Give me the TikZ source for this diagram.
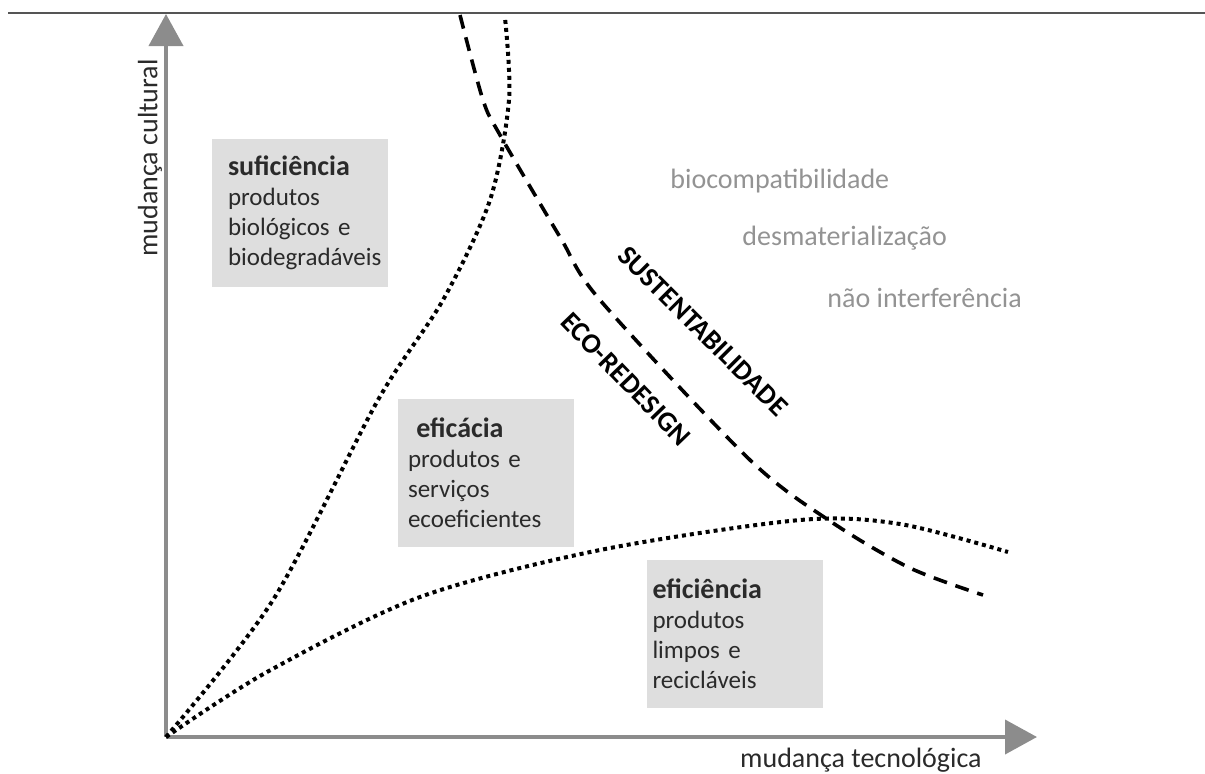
\documentclass[tikz,border=0pt]{standalone}
\usepackage{fontspec}
\setmainfont{Carlito}
\usepackage{tikz}
\usetikzlibrary{arrows.meta,positioning}
\definecolor{axisgray}{HTML}{8C8C8C}
\definecolor{boxgray}{HTML}{DEDEDE}
\definecolor{labelgray}{HTML}{939393}
\definecolor{textdark}{HTML}{2A2A2A}
\definecolor{rulegray}{HTML}{555555}

\begin{document}
\begin{tikzpicture}[x=0.5pt,y=-0.5pt,
  axis/.style={draw=axisgray,line width=2pt,-{Triangle[width=17pt,length=16pt]}},
  dotline/.style={line width=2pt,dash pattern=on 2pt off 2pt},
  dashline/.style={line width=1.8pt,dash pattern=on 7pt off 4.5pt},
  box/.style={fill=boxgray,minimum height=74pt,inner ysep=0pt,align=left,
    font=\fontsize{12.5}{15}\selectfont,text=textdark},
  strategy/.style={text=labelgray,font=\fontsize{14}{17}\selectfont,anchor=base west,inner sep=0pt},
  axislabel/.style={text=textdark,font=\fontsize{14}{17}\selectfont,inner sep=0pt},
  curvelabel/.style={font=\fontsize{14}{17}\selectfont\bfseries,text=black,inner sep=0pt}]
\useasboundingbox (0,0) rectangle (1205,773);
\draw[rulegray,line width=1pt] (8,13) -- (1205,13);

% axes
\coordinate (origin) at (166,737);
\coordinate (ytip) at (166,14);
\coordinate (xtip) at (1037,737);
\draw[axis] (origin) -- (ytip);
\draw[axis] (origin) -- (xtip);
\node[axislabel,rotate=90] (cult) at (150,158) {mudança cultural};
\node[axislabel,anchor=base east] (tecn) at (982,767) {mudança tecnológica};

% boxes
\node[box,text width=72pt,inner xsep=8pt] (sufi) at (300,213)
  {{\fontsize{14}{14}\selectfont\bfseries suficiência}\\produtos\\biológicos e\\biodegradáveis};
\node[box,text width=78pt,inner xsep=5pt] (efic) at (486,472.5)
  {{\fontsize{14}{14}\selectfont\bfseries\ eficácia}\\produtos e\\serviços\\ecoeficientes};
\node[box,text width=82pt,inner xsep=3pt] (efici) at (734.5,634)
  {{\fontsize{14}{14}\selectfont\bfseries eficiência}\\produtos\\limpos e\\recicláveis};

% curves
\draw[dotline] plot[smooth] coordinates
  {(origin) (273,600) (378,400) (443,300) (490,200) (509,100) (505,18)};
\draw[dotline] plot[smooth] coordinates
  {(origin) (267,672) (420,597) (600,550) (800,520) (900,524) (1008,552)};
\draw[dashline] plot[smooth] coordinates
  {(460,15) (483,100) (500,135) (560,237) (600,300) (750,460) (833,523) (910,568) (983,595)};
\node[curvelabel,rotate=-45] (sust) at (703,331) {SUSTENTABILIDADE};
\node[curvelabel,rotate=-46] (ecor) at (626,379) {ECO-REDESIGN};

% strategies
\node[strategy] (bioc) at (670,188) {biocompatibilidade};
\node[strategy] (desm) at (742,245) {desmaterialização};
\node[strategy] (naoi) at (827,307) {não interferência};
\end{tikzpicture}
\end{document}
